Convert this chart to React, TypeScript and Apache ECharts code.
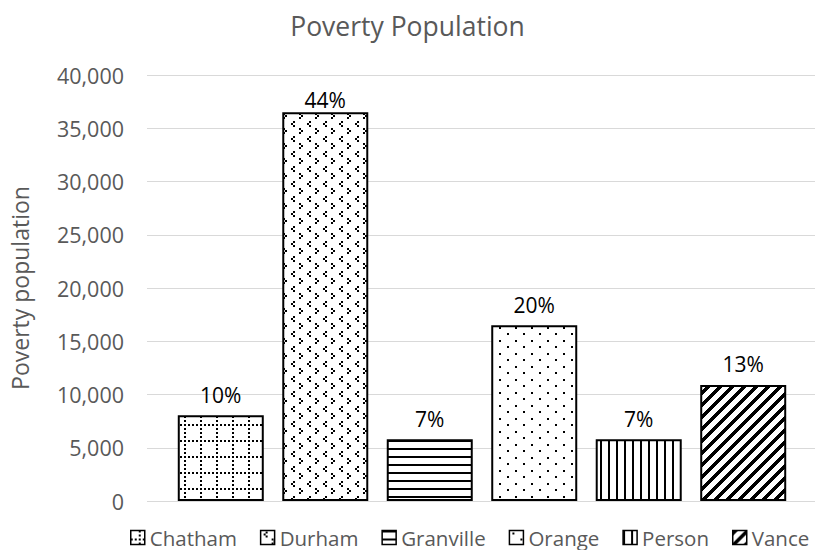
import React, { useEffect, useRef } from "react";
import * as echarts from "echarts";

const categories = ["Chatham", "Durham", "Granville", "Orange", "Person", "Vance"];
const values = [8050, 36500, 5800, 16500, 5800, 10900];
const pctLabels = ["10%", "44%", "7%", "20%", "7%", "13%"];
const yMin = 0;
const yMax = 40000;
const yStep = 5000;

type PixelFn = (x: number, y: number) => boolean;

function makeTile(w: number, h: number, isBlack: PixelFn) {
  const c = document.createElement("canvas");
  c.width = w;
  c.height = h;
  const ctx = c.getContext("2d")!;
  ctx.fillStyle = "#ffffff";
  ctx.fillRect(0, 0, w, h);
  ctx.fillStyle = "#000000";
  for (let y = 0; y < h; y++) {
    for (let x = 0; x < w; x++) {
      if (isBlack(x, y)) ctx.fillRect(x, y, 1, 1);
    }
  }
  return { image: c.toDataURL(), repeat: "repeat", imageWidth: w, imageHeight: h } as any;
}

function inDot(x: number, y: number, dx: number, dy: number, s = 2) {
  return x >= dx && x < dx + s && y >= dy && y < dy + s;
}

function buildPatterns() {
  return {
    // dotted grid
    Chatham: makeTile(16, 16, (x, y) => {
      const onH = (y === 8 || y === 9) && x % 4 < 2;
      const onV = (x === 8 || x === 9) && y % 4 < 2;
      return onH || onV;
    }),
    // divots
    Durham: makeTile(16, 15, (x, y) =>
      inDot(x, y, 5, 1) || inDot(x, y, 3, 3) || inDot(x, y, 5, 5) ||
      inDot(x, y, 11, 8) || inDot(x, y, 13, 10) || inDot(x, y, 11, 12)
    ),
    // horizontal lines
    Granville: makeTile(8, 8, (x, y) => y < 2),
    // small dots
    Orange: makeTile(16, 13, (x, y) => inDot(x, y, 3, 2) || inDot(x, y, 11, 8)),
    // vertical lines
    Person: makeTile(8, 8, (x, y) => x < 2),
    // wide upward diagonal
    Vance: makeTile(12, 12, (x, y) => (x + y) % 12 < 5),
  } as Record<string, any>;
}

const GRID_LEFT = 145;
const GRID_TOP = 75;
const LABEL_LIMIT_TOP = 86;
const CHART_W = 815;
const FIRST_CENTER = 219;
const STEP_PX = 104.8;

export default function App() {
  const ref = useRef<HTMLDivElement>(null);

  useEffect(() => {
    if (!ref.current) return;
    const chart = echarts.init(ref.current, undefined, { renderer: "svg" });
    const patterns = buildPatterns();
    const font = "'Open Sans', 'DejaVu Sans', sans-serif";
    const plotH = 550 - 49 - GRID_TOP;

    const series = categories.map((name, i) => {
      // keep labels inside the plot area (as the original does for the tallest bar)
      const barTopPx = GRID_TOP + plotH * (1 - (values[i] - yMin) / (yMax - yMin));
      const dist = Math.max(2, Math.min(10, barTopPx - LABEL_LIMIT_TOP - 24));
      return {
        name,
        type: "bar",
        barWidth: 86,
        barGap: "-100%",
        data: [[i, values[i]]],
        itemStyle: {
          color: patterns[name],
          borderColor: "#000000",
          borderWidth: 2,
        },
        label: {
          show: true,
          position: "top",
          distance: dist,
          formatter: () => pctLabels[i],
          color: "#000000",
          fontSize: 21,
          fontFamily: font,
        },
      };
    });

    chart.setOption({
      animation: false,
      backgroundColor: "#ffffff",
      title: {
        text: "Poverty Population",
        left: "center",
        top: 7,
        textStyle: {
          color: "#595959",
          fontSize: 26.5,
          fontWeight: "normal",
          fontFamily: font,
        },
      },
      legend: {
        data: categories,
        left: 130,
        top: 527,
        width: 685,
        padding: 0,
        icon: "rect",
        itemWidth: 14,
        itemHeight: 14,
        itemGap: 23,
        itemStyle: { borderWidth: 1.5, borderColor: "#000" },
        textStyle: { color: "#595959", fontSize: 20.5, lineHeight: 20, fontFamily: font },
      },
      grid: {
        left: GRID_LEFT,
        right: 0,
        top: GRID_TOP,
        bottom: 49,
        containLabel: false,
      },
      xAxis: {
        type: "value",
        min: -(FIRST_CENTER - GRID_LEFT) / STEP_PX,
        max: (CHART_W - FIRST_CENTER) / STEP_PX,
        show: false,
      },
      yAxis: {
        type: "value",
        min: yMin,
        max: yMax,
        interval: yStep,
        name: "Poverty population",
        nameLocation: "middle",
        nameGap: 116,
        nameTextStyle: { color: "#595959", fontSize: 23, fontFamily: font },
        axisLine: { show: false },
        axisTick: { show: false },
        axisLabel: {
          color: "#595959",
          fontSize: 21.5,
          fontFamily: font,
          margin: 23,
          formatter: (v: number) => v.toLocaleString("en-US"),
        },
        splitLine: { lineStyle: { color: "#d9d9d9", width: 1 } },
      },
      series,
    } as any);

    return () => chart.dispose();
  }, []);

  return (
    <div
      ref={ref}
      style={{ position: "fixed", left: 0, top: 0, width: 815, height: 550 }}
    />
  );
}
